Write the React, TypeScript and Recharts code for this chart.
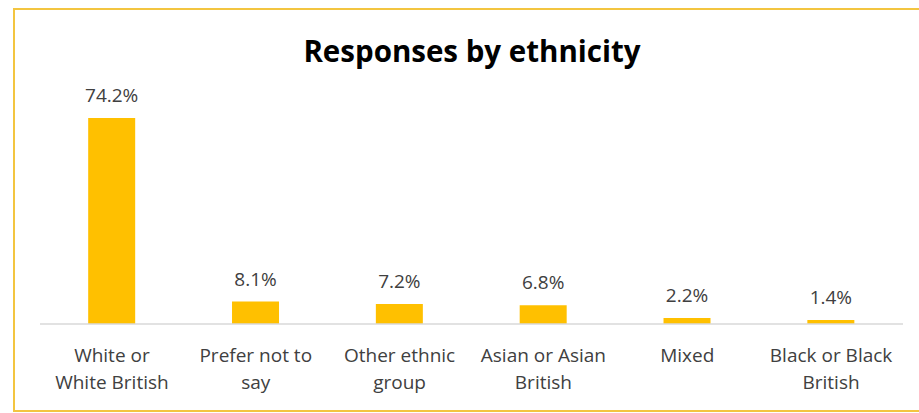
import { BarChart, Bar, XAxis, YAxis, LabelList } from 'recharts';

// categories (\n marks the line break used on the axis)
const categories = [
  'White or\nWhite British',
  'Prefer not to\nsay',
  'Other ethnic\ngroup',
  'Asian or Asian\nBritish',
  'Mixed',
  'Black or Black\nBritish',
];
const percentages = [74.2, 8.1, 7.2, 6.8, 2.2, 1.4];

const FONT = '"Open Sans", Lato, sans-serif';
const BAR_COLOR = '#FFC000';
const TEXT_COLOR = '#404040';

const data = categories.map((name, i) => ({ name, value: percentages[i] }));

function CategoryTick(props: any) {
  const { x, y, payload } = props;
  const lines = String(payload.value).split('\n');
  return (
    <text x={x} y={y} textAnchor="middle" fill={TEXT_COLOR} fontSize={19} fontFamily={FONT}>
      {lines.map((line, i) => (
        <tspan key={i} x={x} dy={i === 0 ? 30 : 27}>
          {line}
        </tspan>
      ))}
    </text>
  );
}

export default function App() {
  return (
    <div
      style={{
        position: 'absolute',
        left: 13,
        top: 8,
        width: 906,
        height: 404,
        boxSizing: 'border-box',
        borderTop: '2px solid #F3C540',
        borderLeft: '2px solid #F3C540',
        borderBottom: '2px solid #F3C540',
        background: '#fff',
      }}
    >
      <div
        style={{
          position: 'absolute',
          left: 0,
          top: 26,
          width: 914,
          textAlign: 'center',
          fontFamily: FONT,
          fontWeight: 700,
          fontSize: 29.5,
          lineHeight: '29.5px',
          color: '#000',
        }}
      >
        Responses by ethnicity
      </div>
      <BarChart
        width={904}
        height={400}
        data={data}
        margin={{ top: 92, right: 16, left: 25, bottom: 0 }}
        barCategoryGap="33.5%"
      >
        <XAxis
          dataKey="name"
          height={86}
          interval={0}
          tickLine={false}
          axisLine={{ stroke: '#D9D9D9', strokeWidth: 1.5 }}
          tick={<CategoryTick />}
        />
        <YAxis hide domain={[0, 80]} />
        <Bar dataKey="value" fill={BAR_COLOR} isAnimationActive={false}>
          <LabelList
            dataKey="value"
            position="top"
            offset={16}
            formatter={(v: any) => `${Number(v).toFixed(1)}%`}
            fill={TEXT_COLOR}
            fontSize={19}
            fontFamily={FONT}
          />
        </Bar>
      </BarChart>
    </div>
  );
}
